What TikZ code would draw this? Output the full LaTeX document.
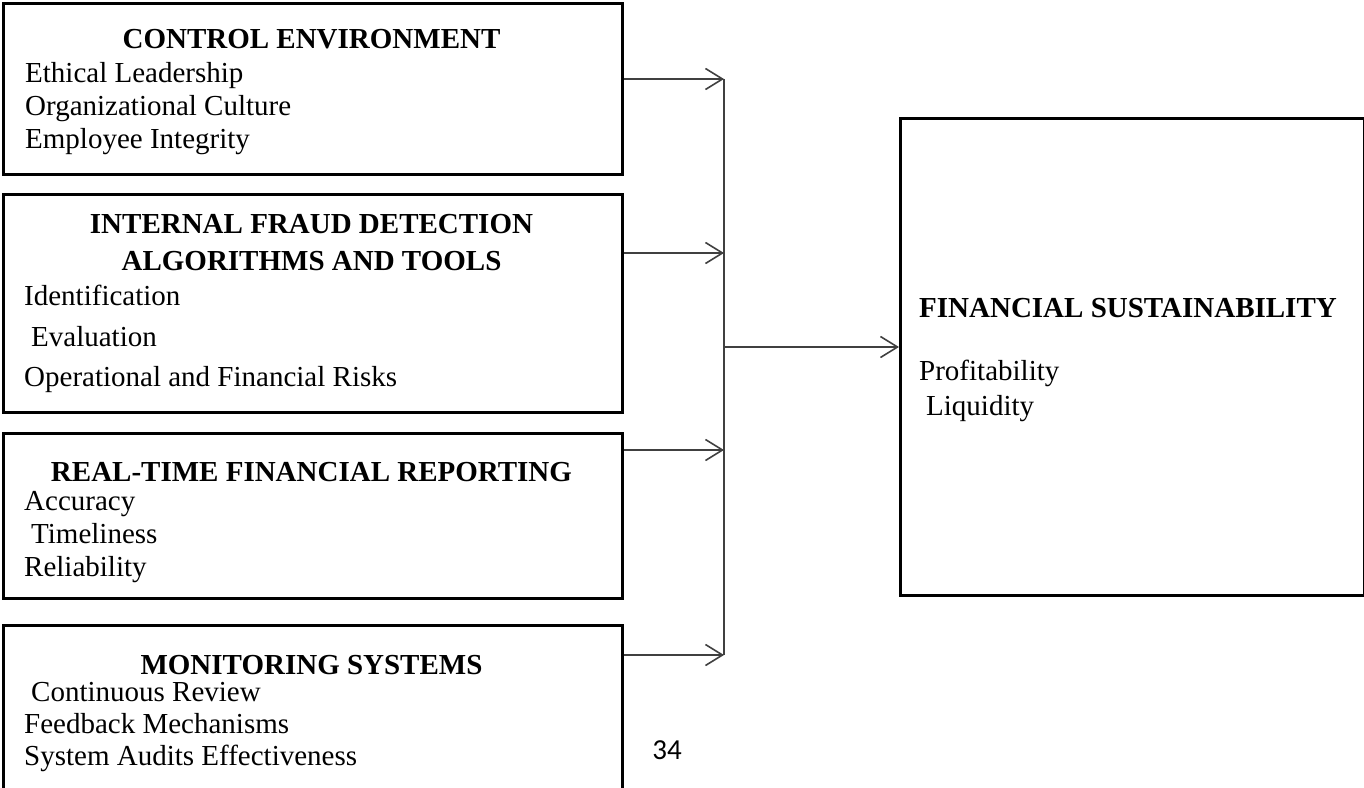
\documentclass[tikz,border=0pt]{standalone}
\usepackage{fontspec}
\setmainfont{Liberation Serif}
\newfontfamily\pagefont{Carlito}
\usetikzlibrary{arrows.meta}

\begin{document}
\begin{tikzpicture}[x=1pt,y=-1pt,
  box/.style={draw=black,line width=2.6pt,minimum width=619pt,anchor=north west,inner sep=0pt},
  head/.style={anchor=base,font=\bfseries,inner sep=0pt},
  item/.style={anchor=base west,inner sep=0pt},
  bus/.style={draw=kGrey,line width=1.6pt},
  link/.style={bus,-{Straight Barb[length=17pt,width=21pt]}}]
  % colors
  \definecolor{kGrey}{rgb}{0.25,0.25,0.25}
  \fontsize{29}{33}\selectfont
  \clip (0,0) rectangle (1364,787);

  % boxes
  \node[box,minimum height=171pt] (ce) at (2,2) {};
  \node[box,minimum height=218pt] (fd) at (2,193) {};
  \node[box,minimum height=165pt] (rt) at (2,432) {};
  \node[box,minimum height=200pt] (ms) at (2,624) {};
  \node[box,minimum width=464pt,minimum height=477pt] (fs) at (899,117) {};

  % titles
  \node[head] (ce-h) at (311.5,48) {CONTROL ENVIRONMENT};
  \node[head] (fd-h1) at (311.5,233) {INTERNAL FRAUD DETECTION};
  \node[head] (fd-h2) at (311.5,270) {ALGORITHMS AND TOOLS};
  \node[head] (rt-h) at (311.5,481) {REAL-TIME FINANCIAL REPORTING};
  \node[head] (ms-h) at (311.5,674) {MONITORING SYSTEMS};
  \node[head,anchor=base west] (fs-h) at (919,317) {FINANCIAL SUSTAINABILITY};

  % items
  \foreach \x/\y/\t [count=\i] in {25/82/Ethical Leadership, 25/115/Organizational Culture, 25/148/Employee Integrity}
    \node[item] (ce-\i) at (\x,\y) {\t};
  \foreach \x/\y/\t [count=\i] in {24/305/Identification, 31/346/Evaluation, 24/386/Operational and Financial Risks}
    \node[item] (fd-\i) at (\x,\y) {\t};
  \foreach \x/\y/\t [count=\i] in {24/510/Accuracy, 31/543/Timeliness, 24/576/Reliability}
    \node[item] (rt-\i) at (\x,\y) {\t};
  \foreach \x/\y/\t [count=\i] in {31/701/Continuous Review, 24/733/Feedback Mechanisms, 24/765/System Audits Effectiveness}
    \node[item] (ms-\i) at (\x,\y) {\t};
  \foreach \x/\y/\t [count=\i] in {919/380/Profitability, 926/415/Liquidity}
    \node[item] (fs-\i) at (\x,\y) {\t};

  % bus and arrows
  \coordinate (j1) at (724,79);
  \coordinate (j2) at (724,253);
  \coordinate (j3) at (724,450);
  \coordinate (j4) at (724,655);
  \coordinate (jm) at (724,347);
  \draw[bus] (j1) -- (j4);
  \foreach \b/\j in {ce/j1, fd/j2, rt/j3, ms/j4}
    \draw[link] (\b.east |- \j) -- (\j);
  \draw[link] (jm) -- (fs.west |- jm);

  \node[font=\pagefont,anchor=base] (pg) at (667,759) {34};
\end{tikzpicture}
\end{document}
